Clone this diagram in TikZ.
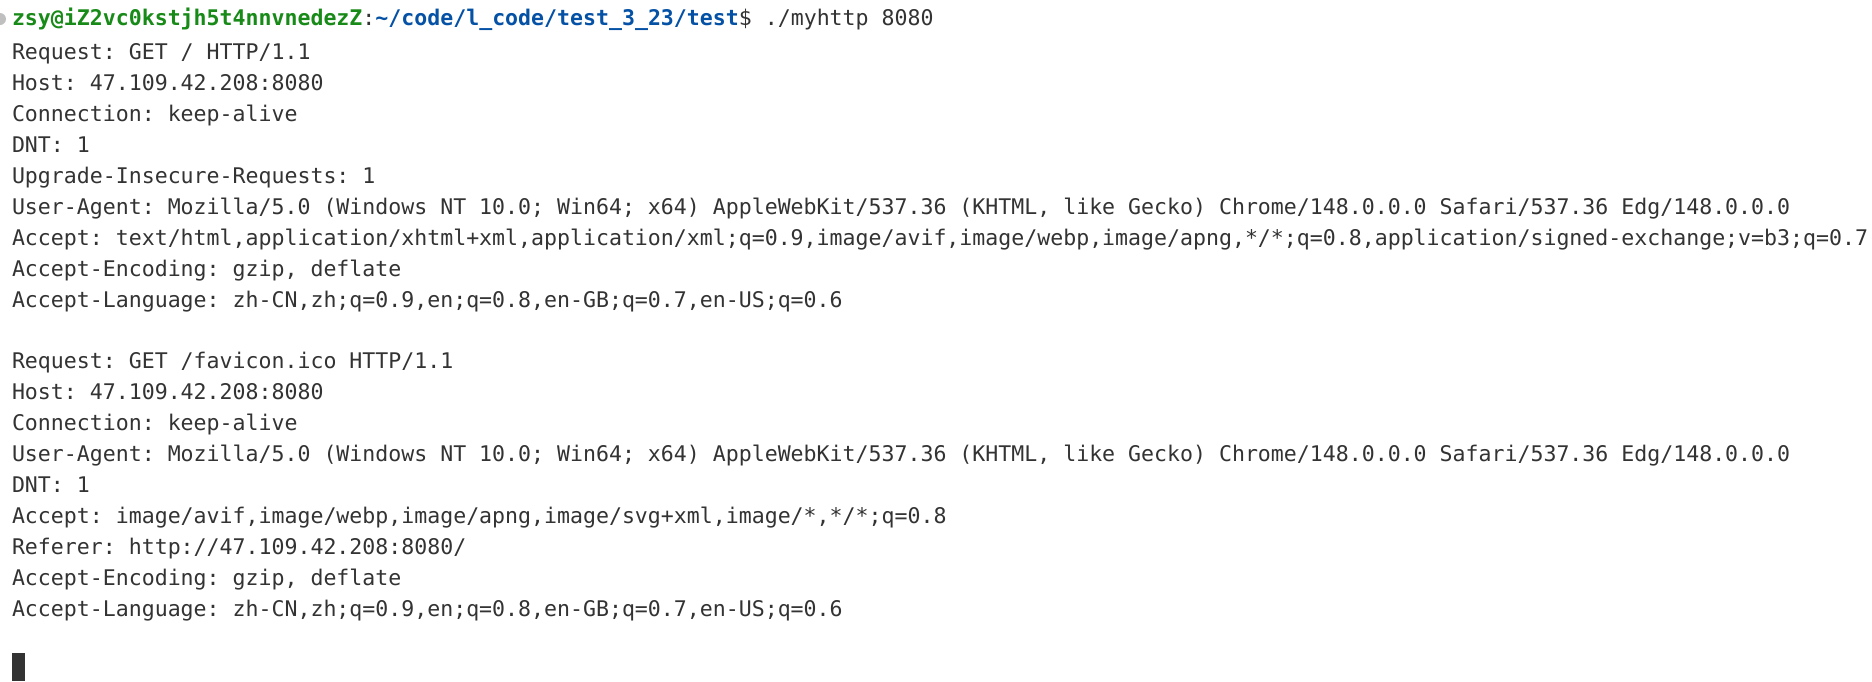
\documentclass[tikz,border=0pt]{standalone}
\usepackage{fontspec}
\newfontfamily\termfont{DejaVu Sans Mono}
\definecolor{termfg}{HTML}{333333}
\definecolor{pgreen}{HTML}{178A17}
\definecolor{pblue}{HTML}{0451A5}
\definecolor{cursorc}{HTML}{333333}
\tikzset{
  termline/.style={anchor=base west, inner sep=0pt, outer sep=0pt, text=termfg,
    font=\termfont\fontsize{10.78pt}{13pt}\selectfont\frenchspacing},
}
\begin{document}
\begin{tikzpicture}[x=0.5pt,y=-0.5pt]
\useasboundingbox[fill=white] (0,0) rectangle (1872,681);
\fill[gray!50] (0,19) circle (6);
\def\lx{12}
\def\ly#1{28.5+#1*30.95}
\node[termline] (l0) at (\lx,25) {{\bfseries\color{pgreen}zsy@iZ2vc0kstjh5t4nnvnedezZ}:{\bfseries\color{pblue}\textasciitilde/code/l\_code/test\_3\_23/test}\$ ./myhttp 8080};
\node[termline] (l1) at (\lx,{\ly{1}}) {Request: GET / HTTP/1.1};
\node[termline] (l2) at (\lx,{\ly{2}}) {Host: 47.109.42.208:8080};
\node[termline] (l3) at (\lx,{\ly{3}}) {Connection: keep-alive};
\node[termline] (l4) at (\lx,{\ly{4}}) {DNT: 1};
\node[termline] (l5) at (\lx,{\ly{5}}) {Upgrade-Insecure-Requests: 1};
\node[termline] (l6) at (\lx,{\ly{6}}) {User-Agent: Mozilla/5.0 (Windows NT 10.0; Win64; x64) AppleWebKit/537.36 (KHTML, like Gecko) Chrome/148.0.0.0 Safari/537.36 Edg/148.0.0.0};
\node[termline] (l7) at (\lx,{\ly{7}}) {Accept: text/html,application/xhtml+xml,application/xml;q=0.9,image/avif,image/webp,image/apng,*/*;q=0.8,application/signed-exchange;v=b3;q=0.7};
\node[termline] (l8) at (\lx,{\ly{8}}) {Accept-Encoding: gzip, deflate};
\node[termline] (l9) at (\lx,{\ly{9}}) {Accept-Language: zh-CN,zh;q=0.9,en;q=0.8,en-GB;q=0.7,en-US;q=0.6};
\node[termline] (l11) at (\lx,{\ly{11}}) {Request: GET /favicon.ico HTTP/1.1};
\node[termline] (l12) at (\lx,{\ly{12}}) {Host: 47.109.42.208:8080};
\node[termline] (l13) at (\lx,{\ly{13}}) {Connection: keep-alive};
\node[termline] (l14) at (\lx,{\ly{14}}) {User-Agent: Mozilla/5.0 (Windows NT 10.0; Win64; x64) AppleWebKit/537.36 (KHTML, like Gecko) Chrome/148.0.0.0 Safari/537.36 Edg/148.0.0.0};
\node[termline] (l15) at (\lx,{\ly{15}}) {DNT: 1};
\node[termline] (l16) at (\lx,{\ly{16}}) {Accept: image/avif,image/webp,image/apng,image/svg+xml,image/*,*/*;q=0.8};
\node[termline] (l17) at (\lx,{\ly{17}}) {Referer: http://47.109.42.208:8080/};
\node[termline] (l18) at (\lx,{\ly{18}}) {Accept-Encoding: gzip, deflate};
\node[termline] (l19) at (\lx,{\ly{19}}) {Accept-Language: zh-CN,zh;q=0.9,en;q=0.8,en-GB;q=0.7,en-US;q=0.6};
\fill[cursorc] (12,653) rectangle (24.5,681);
\end{tikzpicture}
\end{document}
